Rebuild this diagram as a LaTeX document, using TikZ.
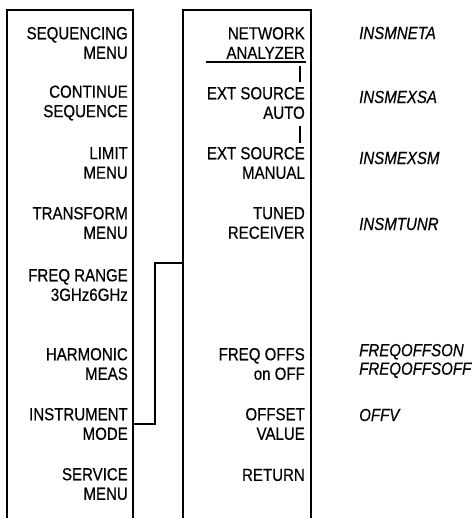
\documentclass[tikz,border=0pt]{standalone}
\usepackage{fontspec}
\setmainfont{Liberation Sans}[FakeStretch=0.86,FakeBold=0.5]
\begin{document}
\begin{tikzpicture}[x=1pt,y=-1pt,
  keytxt/.style={anchor=east,align=right,inner sep=0pt,font=\fontsize{17.5}{19.5}\selectfont},
  mnem/.style={anchor=west,align=left,inner sep=0pt,font=\fontsize{17.5}{18.5}\selectfont\itshape},
  boxline/.style={line width=1.8pt},
  conn/.style={line width=1.3pt}]
\useasboundingbox (0,0) rectangle (472,518);
% boxes (open at the bottom)
\coordinate (lbl) at (7,518);
\coordinate (lbt) at (7,10);
\coordinate (lrt) at (133,10);
\coordinate (lrb) at (133,518);
\draw[boxline] (lbl) -- (lbt) -- (lrt) -- (lrb);
\coordinate (rbl) at (183,518);
\coordinate (rbt) at (183,10);
\coordinate (rrt) at (311,10);
\coordinate (rrb) at (311,518);
\draw[boxline] (rbl) -- (rbt) -- (rrt) -- (rrb);
% left menu
\node[keytxt] (l1) at (128,43) {SEQUENCING\\MENU};
\node[keytxt] (l2) at (128,103) {CONTINUE\\SEQUENCE};
\node[keytxt] (l3) at (128,163) {LIMIT\\MENU};
\node[keytxt] (l4) at (128,223) {TRANSFORM\\MENU};
\node[keytxt] (l5) at (128,285) {FREQ RANGE\\3GHz6GHz};
\node[keytxt] (l6) at (128,364) {HARMONIC\\MEAS};
\node[keytxt] (l7) at (128,424) {INSTRUMENT\\MODE};
\node[keytxt] (l8) at (128,484) {SERVICE\\MENU};
% right menu
\node[keytxt] (r1) at (305,43) {NETWORK\\ANALYZER};
\node[keytxt] (r2) at (305,103) {EXT SOURCE\\AUTO};
\node[keytxt] (r3) at (305,163) {EXT SOURCE\\MANUAL};
\node[keytxt] (r4) at (305,223) {TUNED\\RECEIVER};
\node[keytxt] (r6) at (305,364) {FREQ OFFS\\on OFF};
\node[keytxt] (r7) at (305,424) {OFFSET\\VALUE};
\node[keytxt] (r8) at (305,475) {RETURN};
% underline and ticks
\coordinate (ul1) at (206,62);
\coordinate (ul2) at (306,62);
\draw[conn] (ul1) -- (ul2);
\coordinate (t1a) at (300,66);
\coordinate (t1b) at (300,82);
\draw[line width=1.1pt] (t1a) -- (t1b);
\coordinate (t2a) at (300,126);
\coordinate (t2b) at (300,143);
\draw[line width=1.1pt] (t2a) -- (t2b);
% connector
\coordinate (cl) at (133,424);
\coordinate (cr) at (183,263);
\draw[conn] (cl) -- (155,424) |- (cr);
% mnemonics
\node[mnem] (m1) at (359,33) {INSMNETA};
\node[mnem] (m2) at (359,97) {INSMEXSA};
\node[mnem] (m3) at (359,158) {INSMEXSM};
\node[mnem] (m4) at (359,224) {INSMTUNR};
\node[mnem] (m6) at (359,361) {FREQOFFSON\\FREQOFFSOFF};
\node[mnem] (m7) at (359,415) {OFFV};
\end{tikzpicture}
\end{document}
